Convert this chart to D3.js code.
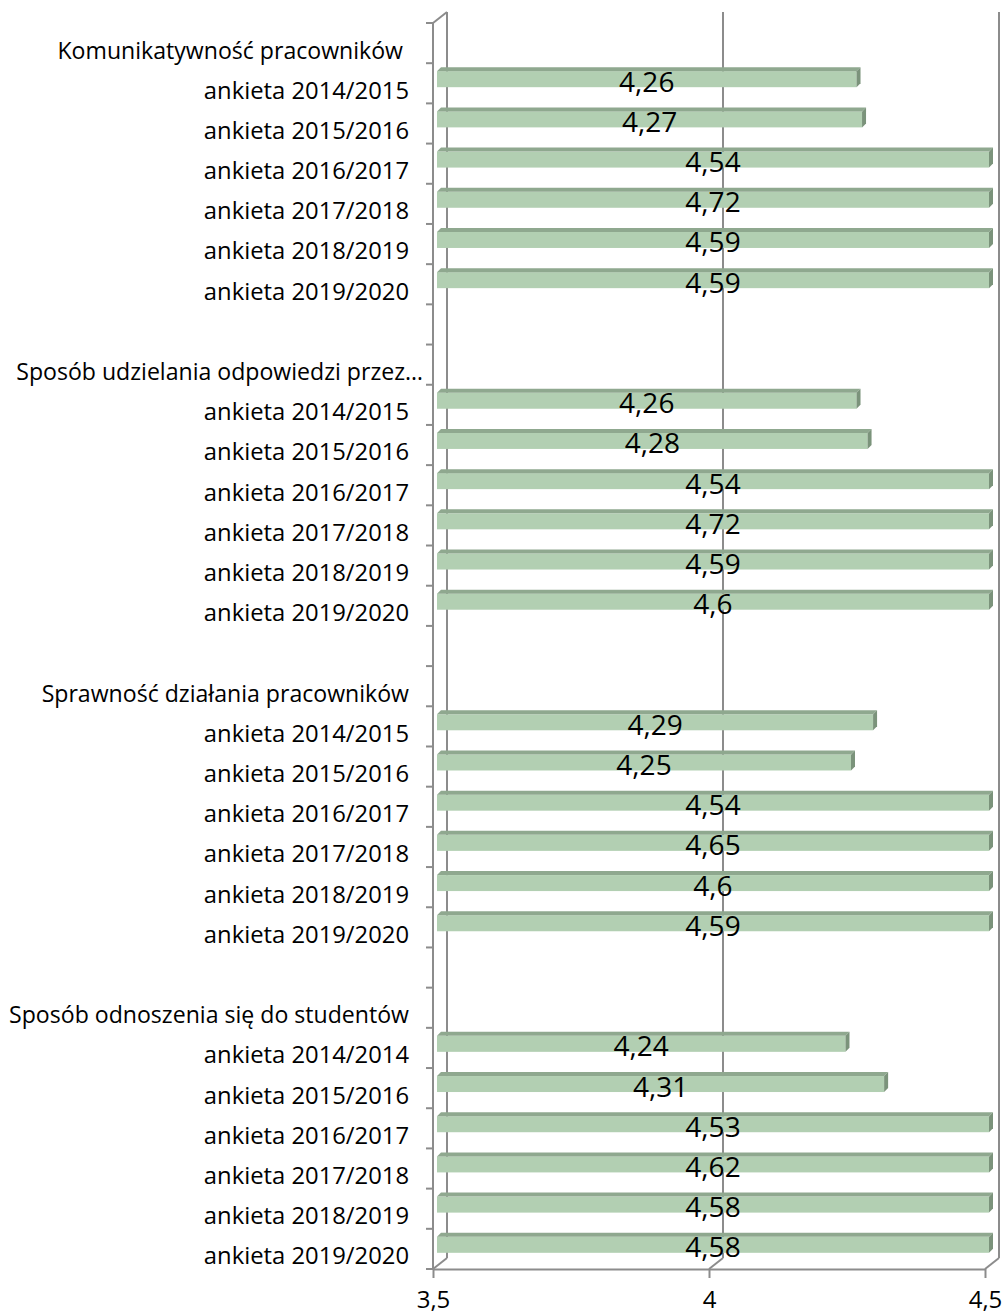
<!DOCTYPE html>
<html>
<head>
<meta charset="utf-8">
<script src="https://cdn.jsdelivr.net/npm/d3@7"></script>
<style>
  body { margin: 0; background: #fff; }
  svg { display: block; font-family: "Open Sans", sans-serif; }
</style>
</head>
<body>
<svg></svg>
<script>
var width = 1003, height = 1314;

// grupy pytań i wyniki ankiet
var groups = ["Komunikatywność pracowników ", "Sposób udzielania odpowiedzi przez…", "Sprawność działania pracowników", "Sposób odnoszenia się do studentów"];
var years = ["ankieta 2014/2015", "ankieta 2015/2016", "ankieta 2016/2017", "ankieta 2017/2018", "ankieta 2018/2019", "ankieta 2019/2020"];
var yearsLast = ["ankieta 2014/2014", "ankieta 2015/2016", "ankieta 2016/2017", "ankieta 2017/2018", "ankieta 2018/2019", "ankieta 2019/2020"];
var komunikatywnosc = [4.26, 4.27, 4.54, 4.72, 4.59, 4.59];
var sposobOdpowiedzi = [4.26, 4.28, 4.54, 4.72, 4.59, 4.6];
var sprawnosc = [4.29, 4.25, 4.54, 4.65, 4.6, 4.59];
var sposobOdnoszenia = [4.24, 4.31, 4.53, 4.62, 4.58, 4.58];
var xTicks = [3.5, 4, 4.5];

var series = [komunikatywnosc, sposobOdpowiedzi, sprawnosc, sposobOdnoszenia];

// wiersze: nagłówek, 6 ankiet, pusty wiersz (bez ostatniego)
var rows = [];
groups.forEach(function(g, gi) {
  rows.push({label: g, value: null, header: true});
  var lab = gi == 3 ? yearsLast : years;
  series[gi].forEach(function(v, i) {
    rows.push({label: lab[i], value: v});
  });
  if (gi < groups.length - 1) rows.push({label: "", value: null});
});

var x = d3.scaleLinear().domain([3.5, 4.5]).range([433, 985]);
var y = d3.scaleBand().domain(d3.range(rows.length)).range([23, 1269]);

var dx = 14, dy = -11;      // głębokość "3D"
var bdx = 4;                // przesunięcie słupka w głąb
var axisColor = "#8c8c8c";

var svg = d3.select("svg").attr("width", width).attr("height", height);

// tylna ściana - linie siatki
var grid = svg.append("g");
grid.selectAll("line.back")
  .data(xTicks)
  .enter().append("line")
  .attr("x1", d => x(d) + dx).attr("x2", d => x(d) + dx)
  .attr("y1", y.range()[0] + dy).attr("y2", y.range()[1] + dy)
  .attr("stroke", axisColor).attr("stroke-width", 2);
// skosy na dole
grid.selectAll("line.slant")
  .data(xTicks)
  .enter().append("line")
  .attr("x1", d => x(d) + dx).attr("y1", y.range()[1] + dy)
  .attr("x2", d => x(d)).attr("y2", y.range()[1])
  .attr("stroke", axisColor).attr("stroke-width", 2);
// skos u góry osi pionowej
grid.append("line")
  .attr("x1", x(3.5)).attr("y1", y.range()[0])
  .attr("x2", x(3.5) + dx).attr("y2", y.range()[0] + dy)
  .attr("stroke", axisColor).attr("stroke-width", 2);

// oś pionowa z podziałkami na granicach wierszy
var yAxis = svg.append("g");
yAxis.append("line")
  .attr("x1", x(3.5)).attr("x2", x(3.5))
  .attr("y1", y.range()[0]).attr("y2", y.range()[1])
  .attr("stroke", axisColor).attr("stroke-width", 2);
var bounds = d3.range(rows.length + 1).map(i => y.range()[0] + i * y.step());
yAxis.selectAll("line.tick")
  .data(bounds)
  .enter().append("line")
  .attr("x1", x(3.5) - 7).attr("x2", x(3.5))
  .attr("y1", d => d).attr("y2", d => d)
  .attr("stroke", axisColor).attr("stroke-width", 2);

// etykiety kategorii
svg.append("g").selectAll("text")
  .data(rows)
  .enter().append("text")
  .attr("x", d => d.label.endsWith("…") ? 423 : 409)
  .attr("y", (d, i) => y(i) + 35.5)
  .attr("text-anchor", "end")
  .style("white-space", "pre")
  .attr("font-size", d => d.header ? 23.1 : 23.8)
  .attr("fill", "#000")
  .text(d => d.label);

// oś pozioma
var xAxis = svg.append("g")
  .attr("transform", "translate(0," + y.range()[1] + ")")
  .call(d3.axisBottom(x).tickValues(xTicks).tickSize(9).tickSizeOuter(0)
    .tickFormat(d => String(d).replace(".", ",")));
xAxis.select(".domain").attr("stroke", axisColor).attr("stroke-width", 2);
xAxis.selectAll(".tick line").attr("stroke", axisColor).attr("stroke-width", 2);
xAxis.selectAll(".tick text")
  .attr("font-family", "Open Sans").attr("font-size", 24).attr("fill", "#000")
  .attr("dy", 0).attr("y", 39);

// słupki 3D
var data = rows.map((d, i) => Object.assign({i: i}, d)).filter(d => d.value != null);
var bars = svg.append("g").selectAll("g")
  .data(data)
  .enter().append("g");

function x0() { return x(3.5) + bdx; }
function x1(d) { return x(Math.min(d.value, 4.5)) + bdx; }
function yt(d) { return y(d.i) + 8; }
var bh = 16, tdx = 4, tdy = -4;

bars.append("rect")
  .attr("x", x0)
  .attr("y", yt)
  .attr("width", d => x1(d) - x0())
  .attr("height", bh)
  .attr("fill", "#b2cfb2");
bars.append("path")
  .attr("d", d => "M" + x0() + "," + yt(d) + "L" + x1(d) + "," + yt(d) +
    "L" + (x1(d) + tdx) + "," + (yt(d) + tdy) + "L" + (x0() + tdx) + "," + (yt(d) + tdy) + "Z")
  .attr("fill", "#8fa88f");
bars.append("path")
  .attr("d", d => "M" + x1(d) + "," + yt(d) + "L" + (x1(d) + tdx) + "," + (yt(d) + tdy) +
    "L" + (x1(d) + tdx) + "," + (yt(d) + tdy + bh) + "L" + x1(d) + "," + (yt(d) + bh) + "Z")
  .attr("fill", "#7b937b");

// wartości
bars.append("text")
  .attr("x", d => (x0() + x1(d)) / 2)
  .attr("y", d => y(d.i) + 28.5)
  .attr("text-anchor", "middle")
  .attr("font-size", 28)
  .attr("fill", "#000")
  .text(d => String(d.value).replace(".", ","));
</script>
</body>
</html>
